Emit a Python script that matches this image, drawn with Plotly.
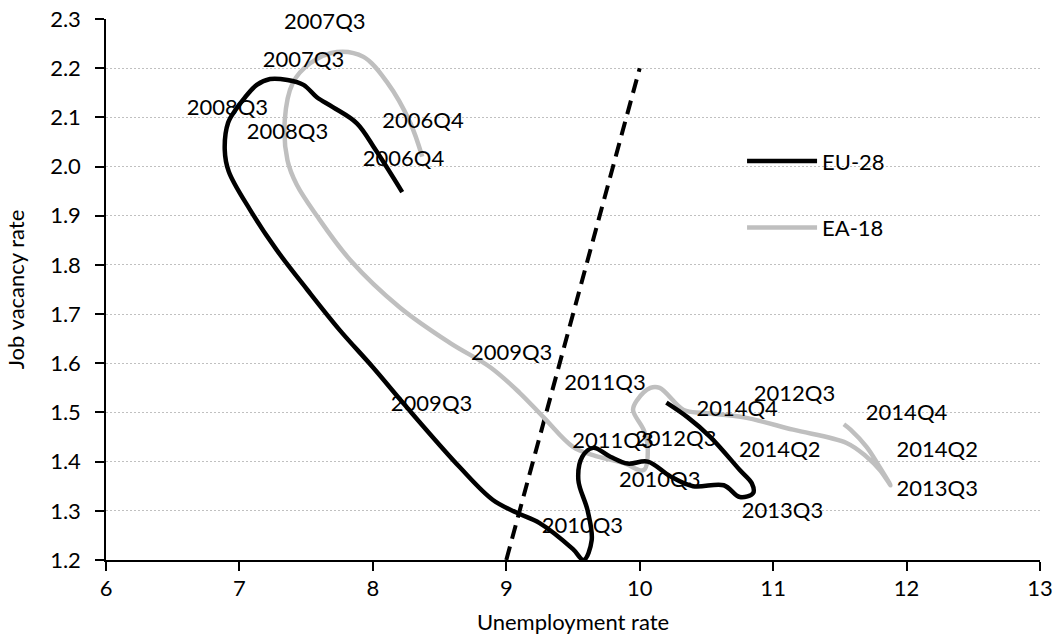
import plotly.graph_objects as go

# EU-28 path (unemployment rate, job vacancy rate), 2006Q4 -> 2014Q4
eu_x = [8.22, 8.02, 7.88, 7.70, 7.58, 7.48, 7.36, 7.23, 7.13, 7.04, 6.97, 6.915, 6.89, 6.92,
        7.08, 7.28, 7.51, 7.75, 8.00, 8.24, 8.65, 8.90, 9.08, 9.25, 9.50, 9.58, 9.64, 9.61,
        9.54, 9.57, 9.65, 9.78, 9.91, 10.06, 10.23, 10.40, 10.63, 10.75, 10.85, 10.84,
        10.75, 10.53, 10.36, 10.20]
eu_y = [1.948, 2.034, 2.088, 2.121, 2.141, 2.166, 2.176, 2.178, 2.166, 2.140, 2.115, 2.089,
        2.034, 1.99, 1.912, 1.830, 1.749, 1.668, 1.592, 1.515, 1.389, 1.322, 1.296, 1.275,
        1.222, 1.200, 1.240, 1.300, 1.363, 1.410, 1.428, 1.410, 1.396, 1.400, 1.370, 1.350,
        1.352, 1.328, 1.336, 1.356, 1.383, 1.450, 1.490, 1.520]

# EA-18 path
ea_x = [8.37, 8.28, 8.11, 7.93, 7.73, 7.53, 7.40, 7.34, 7.36, 7.43, 7.58, 7.83, 8.20, 8.58,
        8.88, 9.10, 9.28, 9.50, 9.65, 9.88, 10.03, 10.06, 10.03, 9.95, 9.98, 10.08, 10.15,
        10.33, 10.48, 10.78, 11.15, 11.55, 11.70, 11.80, 11.88, 11.78, 11.70, 11.58, 11.53]
ea_y = [2.020, 2.089, 2.170, 2.223, 2.233, 2.210, 2.170, 2.095, 2.013, 1.963, 1.900, 1.810,
        1.714, 1.641, 1.592, 1.540, 1.490, 1.430, 1.413, 1.397, 1.383, 1.430, 1.464, 1.505,
        1.525, 1.550, 1.550, 1.505, 1.499, 1.490, 1.465, 1.438, 1.410, 1.383, 1.352, 1.397,
        1.430, 1.465, 1.476]

# Dashed reference line
ref_x = [9.0, 10.0]
ref_y = [1.2, 2.2]

# Quarter labels
label_text = ["2006Q4", "2007Q3", "2008Q3", "2009Q3", "2010Q3", "2011Q3", "2012Q3",
              "2013Q3", "2014Q2", "2014Q4",
              "2006Q4", "2007Q3", "2008Q3", "2009Q3", "2010Q3", "2011Q3", "2012Q3",
              "2013Q3", "2014Q2", "2014Q4"]
label_x = [8.23, 7.48, 6.91, 8.44, 9.57, 9.80, 10.27, 11.07, 11.05, 10.73,
           8.376, 7.64, 7.36, 9.04, 10.15, 9.74, 11.16, 12.23, 12.23, 12.00]
label_y = [2.013, 2.213, 2.115, 1.515, 1.267, 1.438, 1.444, 1.296, 1.420, 1.505,
           2.089, 2.290, 2.068, 1.617, 1.359, 1.556, 1.535, 1.342, 1.420, 1.495]

FONT = "Lato"

fig = go.Figure()
fig.add_trace(go.Scatter(x=ref_x, y=ref_y, mode="lines", showlegend=False,
                         line=dict(color="black", width=4, dash="14px,8px")))
fig.add_trace(go.Scatter(x=ea_x, y=ea_y, mode="lines", name="EA-18",
                         legendgroup="ea", legendrank=2,
                         line=dict(color="#BFBFBF", width=4.5, shape="spline")))
fig.add_trace(go.Scatter(x=eu_x, y=eu_y, mode="lines", name="EU-28",
                         legendgroup="eu", legendrank=1,
                         line=dict(color="black", width=4.5, shape="spline")))
fig.add_trace(go.Scatter(x=label_x, y=label_y, mode="text", text=label_text,
                         textposition="middle center", showlegend=False, cliponaxis=False,
                         textfont=dict(family=FONT, size=22, color="black"),
                         hoverinfo="skip"))

fig.update_layout(
    width=1054, height=635,
    margin=dict(l=106, r=14, t=19, b=75, autoexpand=False),
    plot_bgcolor="white", paper_bgcolor="white",
    font=dict(family=FONT, size=22, color="black"),
    legend=dict(x=0.681, y=0.776, xanchor="left", yanchor="top",
                traceorder="grouped", itemwidth=70, tracegroupgap=35,
                font=dict(family=FONT, size=22), bgcolor="rgba(0,0,0,0)"),
    xaxis=dict(range=[6, 13], dtick=1, tick0=6, showgrid=False, zeroline=False,
               showline=True, linecolor="black", linewidth=2, automargin=False,
               ticks="outside", ticklen=9, tickcolor="black", tickwidth=1.5,
               ticklabelstandoff=-1,
               title=dict(text="Unemployment rate", font=dict(size=22), standoff=19),
               tickfont=dict(size=22)),
    yaxis=dict(range=[1.2, 2.3], dtick=0.1, tick0=1.2, tickformat=".1f",
               showgrid=True, gridcolor="#C0C0C0", griddash="2px,2px", gridwidth=1,
               zeroline=False, showline=True, linecolor="black", linewidth=1.5,
               automargin=False,
               ticks="outside", ticklen=9, tickcolor="black", tickwidth=1.5,
               ticklabelstandoff=10,
               title=dict(text="Job vacancy rate", font=dict(size=22), standoff=19),
               tickfont=dict(size=22)),
)

fig.write_html("out.html", config={"displayModeBar": False},
               post_script="document.body.style.margin='0';")
